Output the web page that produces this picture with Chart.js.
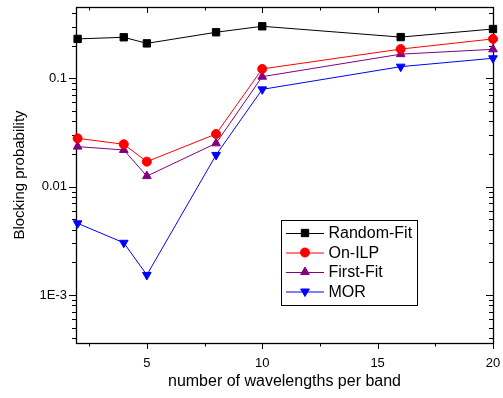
<!DOCTYPE html>
<html>
<head>
<meta charset="utf-8">
<script src="https://cdn.jsdelivr.net/npm/chart.js"></script>
<style>
html, body { margin: 0; padding: 0; background: #fff; }
</style>
</head>
<body>
<canvas id="chart" width="503" height="398"></canvas>
<script>
// wavelengths per band (x) and blocking probability per algorithm
const wavelengths = [2, 4, 5, 8, 10, 16, 20];
const randomFit = [0.231, 0.239, 0.210, 0.266, 0.302, 0.240, 0.285];
const onIlp = [0.0279, 0.0246, 0.0170, 0.0306, 0.122, 0.186, 0.231];
const firstFit = [0.0234, 0.0218, 0.0125, 0.0251, 0.1035, 0.167, 0.185];
const mor = [0.00458, 0.00303, 0.00153, 0.0196, 0.079, 0.128, 0.153];

const seriesNames = ['Random-Fit', 'On-ILP', 'First-Fit', 'MOR'];
const xTicks = [5, 10, 15, 20];
const xMinorTicks = [2.5, 7.5, 12.5, 17.5];
const yTicks = [0.001, 0.01, 0.1];
const yTickLabels = ['1E-3', '0.01', '0.1'];

const FONT = "'Liberation Sans', Arial, sans-serif";

function toPoints(values) {
    return wavelengths.map((w, i) => ({ x: w, y: values[i] }));
}

function makeSet(label, values, color, style, radius, rotation) {
    return {
        label: label,
        data: toPoints(values),
        borderColor: color,
        backgroundColor: color,
        borderWidth: 1,
        pointStyle: style,
        pointRadius: radius,
        pointHoverRadius: radius,
        pointRotation: rotation || 0,
        pointBorderWidth: 1,
        tension: 0,
        clip: false
    };
}

const datasets = [
    makeSet(seriesNames[0], randomFit, '#000000', 'rect', 5.2),
    makeSet(seriesNames[1], onIlp, '#ff0000', 'circle', 4.5),
    makeSet(seriesNames[2], firstFit, '#800080', 'triangle', 5),
    makeSet(seriesNames[3], mor, '#0000ff', 'triangle', 5, 180)
];

// frame, mirrored ticks and the boxed legend, like the Origin original
const decor = {
    id: 'decor',
    beforeDatasetsDraw(chart) {
        const ctx = chart.ctx;
        const a = chart.chartArea;
        const sx = chart.scales.x, sy = chart.scales.y;
        ctx.save();
        ctx.strokeStyle = '#000';
        ctx.lineWidth = 1;
        ctx.beginPath();
        const xt = (v, len) => {
            const px = Math.round(sx.getPixelForValue(v)) + 0.5;
            ctx.moveTo(px, a.bottom); ctx.lineTo(px, a.bottom + len);
            ctx.moveTo(px, a.top); ctx.lineTo(px, a.top + len);
        };
        xTicks.forEach(v => xt(v, 6));
        xMinorTicks.forEach(v => xt(v, 3.5));
        const yt = (v, len) => {
            const py = Math.round(sy.getPixelForValue(v)) + 0.5;
            ctx.moveTo(a.left, py); ctx.lineTo(a.left - len, py);
            ctx.moveTo(a.right, py); ctx.lineTo(a.right - len, py);
        };
        yTicks.forEach(v => yt(v, 7));
        for (let e = -4; e <= -1; e++) {
            for (let k = 2; k <= 9; k++) {
                const v = k * Math.pow(10, e);
                if (v > sy.min && v < sy.max) yt(v, 4);
            }
        }
        ctx.stroke();
        ctx.lineWidth = 1.3;
        ctx.strokeRect(a.left + 0.5, a.top + 0.5, a.right - a.left, a.bottom - a.top);
        ctx.restore();
    },
    afterDatasetsDraw(chart) {
        const ctx = chart.ctx;
        const box = { x: 281.5, y: 220.5, w: 136, h: 85 };
        ctx.save();
        ctx.fillStyle = '#fff';
        ctx.fillRect(box.x, box.y, box.w, box.h);
        ctx.strokeStyle = '#000';
        ctx.lineWidth = 1;
        ctx.strokeRect(box.x, box.y, box.w, box.h);
        ctx.font = '16px ' + FONT;
        ctx.textBaseline = 'middle';
        chart.data.datasets.forEach((ds, i) => {
            const cy = 233 + i * 19.5;
            ctx.strokeStyle = ds.borderColor;
            ctx.beginPath();
            ctx.moveTo(286, cy + 0.5);
            ctx.lineTo(324, cy + 0.5);
            ctx.stroke();
            ctx.fillStyle = ds.backgroundColor;
            Chart.helpers.drawPoint(ctx, {
                pointStyle: ds.pointStyle,
                radius: ds.pointRadius,
                rotation: ds.pointRotation,
                borderWidth: 1
            }, 305, cy);
            ctx.fillStyle = '#000';
            ctx.fillText(ds.label, 328.5, cy + 1);
        });
        ctx.restore();
    }
};

new Chart(document.getElementById('chart'), {
    type: 'line',
    data: { datasets: datasets },
    plugins: [decor],
    options: {
        responsive: false,
        animation: false,
        events: [],
        layout: { padding: { top: 7, right: 10, left: 0, bottom: 0 } },
        plugins: {
            legend: { display: false },
            tooltip: { enabled: false }
        },
        scales: {
            x: {
                type: 'linear',
                min: 1.93,
                max: 20,
                grid: { display: false, drawTicks: false },
                border: { display: false },
                afterBuildTicks: s => { s.ticks = xTicks.map(v => ({ value: v })); },
                afterFit: s => { s.height = 55; s.paddingLeft = 0; s.paddingRight = 0; },
                ticks: {
                    padding: 13,
                    color: '#000',
                    font: { family: FONT, size: 13 },
                    maxRotation: 0
                },
                title: {
                    display: true,
                    text: 'number of wavelengths per band',
                    color: '#000',
                    font: { family: FONT, size: 16 },
                    padding: { top: 0, bottom: 7 }
                }
            },
            y: {
                type: 'logarithmic',
                min: 0.00036,
                max: 0.455,
                grid: { display: false, drawTicks: false },
                border: { display: false },
                afterBuildTicks: s => { s.ticks = yTicks.map(v => ({ value: v })); },
                afterFit: s => { s.width = 76; s.paddingTop = 0; s.paddingBottom = 0; },
                ticks: {
                    padding: 9,
                    color: '#000',
                    font: { family: FONT, size: 13 },
                    callback: v => {
                        const i = yTicks.findIndex(t => Math.abs(t - v) / t < 1e-6);
                        return i >= 0 ? yTickLabels[i] : '';
                    }
                },
                title: {
                    display: true,
                    text: 'Blocking probability',
                    color: '#000',
                    font: { family: FONT, size: 15 },
                    padding: { top: 11, bottom: 0 }
                }
            }
        }
    }
});
</script>
</body>
</html>
